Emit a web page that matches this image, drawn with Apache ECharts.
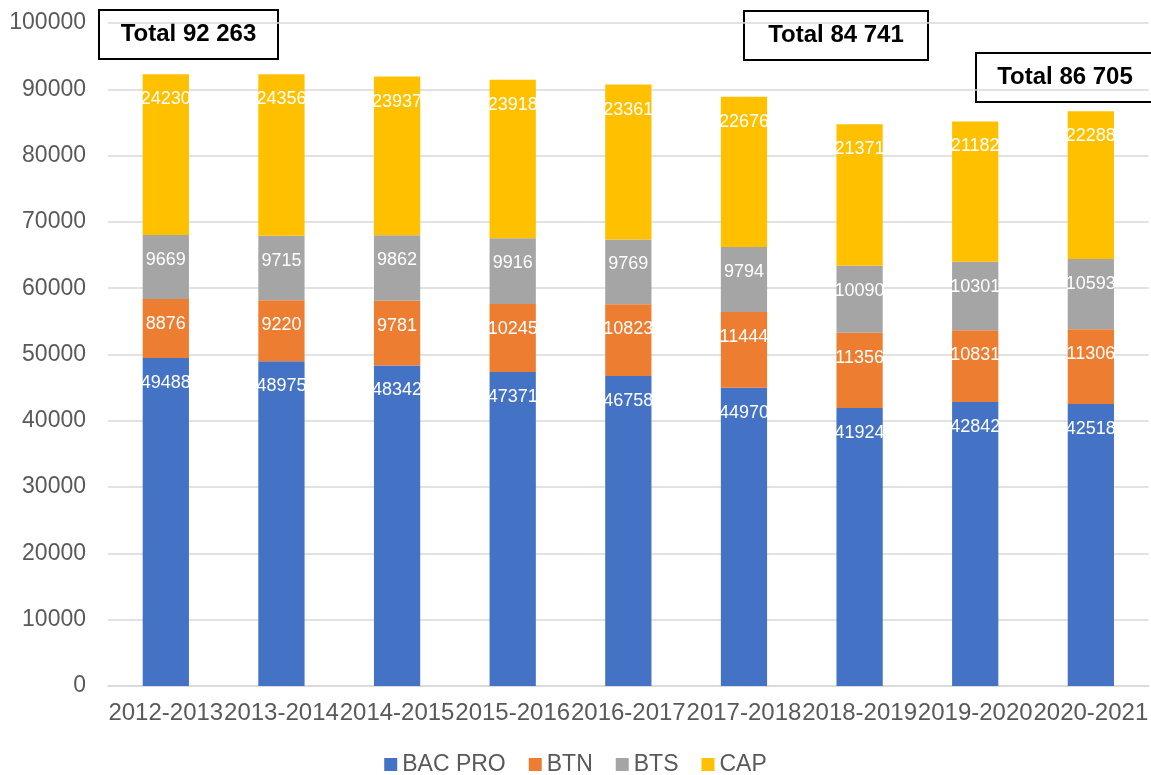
<!DOCTYPE html>
<html>
<head>
<meta charset="utf-8">
<script src="https://cdn.jsdelivr.net/npm/echarts@6/dist/echarts.min.js"></script>
<style>
html,body{margin:0;padding:0;background:#fff;}
#chart{width:1151px;height:775px;}
</style>
</head>
<body>
<div id="chart"></div>
<script>
const categories = ['2012-2013','2013-2014','2014-2015','2015-2016','2016-2017','2017-2018','2018-2019','2019-2020','2020-2021'];
const bacPro = [49488, 48975, 48342, 47371, 46758, 44970, 41924, 42842, 42518];
const btn    = [8876, 9220, 9781, 10245, 10823, 11444, 11356, 10831, 11306];
const bts    = [9669, 9715, 9862, 9916, 9769, 9794, 10090, 10301, 10593];
const cap    = [24230, 24356, 23937, 23918, 23361, 22676, 21371, 21182, 22288];
const seriesNames = ['BAC PRO','BTN','BTS','CAP'];
const totalIndices = [0, 6, 8];

const FONT = '"Liberation Sans", Arial, sans-serif';
const colors = ['#4472C4','#ED7D31','#A5A5A5','#FFC000'];
const allData = [bacPro, btn, bts, cap];

function total(i){ return allData.reduce((s,a)=>s+a[i],0); }
function fmt(n){ return String(n).replace(/\B(?=(\d{3})+(?!\d))/g,' '); }

const boxes = [
  {x:98, y:9, w:179, h:49},
  {x:743, y:10, w:184, h:49},
  {x:975, y:52, w:190, h:49, cx:89}
];

const chart = echarts.init(document.getElementById('chart'), null, {renderer:'canvas'});
chart.setOption({
  animation:false,
  color: colors,
  textStyle:{fontFamily:FONT},
  grid:{left:108, width:1045, top:23, bottom:89, containLabel:false},
  legend:{
    data: seriesNames,
    top:753,
    left:'center',
    padding:0,
    icon:'rect',
    itemWidth:13,
    itemHeight:13,
    itemGap:23,
    textStyle:{fontSize:23, color:'#595959', fontFamily:FONT}
  },
  xAxis:{
    type:'category',
    data:categories,
    axisTick:{show:false},
    axisLine:{lineStyle:{color:'#D9D9D9', width:1.5}},
    axisLabel:{interval:0, fontSize:24, color:'#595959', margin:15, fontFamily:FONT}
  },
  yAxis:{
    type:'value',
    min:0, max:100000, interval:10000,
    axisLine:{show:false},
    axisTick:{show:false},
    splitLine:{lineStyle:{color:'#D9D9D9', width:1.5}},
    axisLabel:{fontSize:23, color:'#595959', margin:22, fontFamily:FONT, formatter:(v)=>String(v)}
  },
  series: seriesNames.map((n,k)=>({
    name:n,
    type:'bar',
    stack:'total',
    barWidth:'40%',
    data: allData[k],
    itemStyle:{color:colors[k]},
    label:{show:true, position:'insideTop', distance:16, color:'#fff', fontSize:18, fontFamily:FONT}
  })),
  graphic: totalIndices.map((idx,j)=>{
    const b = boxes[j];
    return {
      type:'group', left:b.x, top:b.y,
      children:[
        {type:'rect', shape:{x:0,y:0,width:b.w,height:b.h}, style:{fill:'#fff', stroke:'#000', lineWidth:2}},
        {type:'text', x:(b.cx||b.w/2), y:b.h/2, style:{text:'Total '+fmt(total(idx)), font:'bold 24px '+FONT, fill:'#000', align:'center', verticalAlign:'middle'}}
      ]
    };
  })
});
</script>
</body>
</html>
